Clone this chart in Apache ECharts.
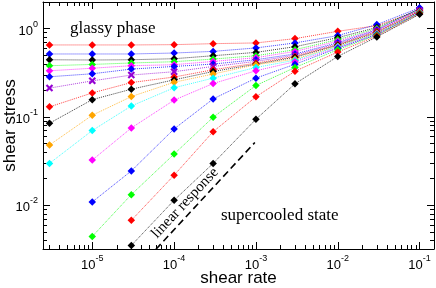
<!DOCTYPE html>
<html><head><meta charset="utf-8">
<script src="https://cdn.jsdelivr.net/npm/echarts@6/dist/echarts.min.js"></script>
<style>html,body{margin:0;padding:0;background:#fff}#c{width:436px;height:288px}</style>
</head><body><div id="c"></div>
<script>
// ---- data ----
const shearRate = [3e-6, 1e-5, 3e-5, 1e-4, 3e-4, 1e-3, 3e-3, 1e-2, 3e-2, 1e-1];
const stress01 = [0.653, 0.653, 0.653, 0.658, 0.675, 0.688, 0.770, 0.932, 1.08, 1.60];
const stress02 = [0.516, 0.516, 0.516, 0.529, 0.552, 0.604, 0.688, 0.833, 1.11, 1.72];
const stress03 = [0.444, 0.441, 0.444, 0.456, 0.493, 0.538, 0.624, 0.790, 1.03, 1.67];
const stress04 = [0.380, 0.393, 0.408, 0.422, 0.452, 0.493, 0.577, 0.750, 1.00, 1.64];
const stress05 = [0.333, 0.356, 0.380, 0.390, 0.425, 0.468, 0.552, 0.721, 0.974, 1.62];
const stress06 = [0.285, 0.308, 0.348, 0.373, 0.397, 0.444, 0.516, 0.693, 0.962, 1.69];
const stress07 = [0.212, 0.256, 0.298, 0.325, 0.373, 0.425, 0.500, 0.675, 0.937, 1.60];
const stress08 = [0.130, 0.187, 0.245, 0.283, 0.342, 0.406, 0.484, 0.658, 0.925, 1.58];
const stress09 = [0.0848, 0.157, 0.206, 0.263, 0.327, 0.395, 0.474, 0.649, 0.901, 1.56];
const stress10 = [0.0481, 0.1045, 0.170, 0.247, 0.306, 0.390, 0.452, 0.633, 0.889, 1.54];
const stress11 = [0.0298, 0.0702, 0.133, 0.214, 0.275, 0.363, 0.439, 0.624, 0.877, 1.53];
const stress12 = [null, 0.0325, 0.075, 0.155, 0.239, 0.333, 0.422, 0.608, 0.866, 1.52];
const stress13 = [null, 0.0109, 0.0245, 0.0731, 0.160, 0.275, 0.395, 0.600, 0.855, 1.51];
const stress14 = [null, 0.00444, 0.0132, 0.0380, 0.0992, 0.227, 0.363, 0.577, 0.844, 1.50];
const stress15 = [null, null, 0.00675, 0.0219, 0.0681, 0.169, 0.329, 0.543, 0.822, 1.48];
const stress16 = [null, null, 0.00351, 0.0114, 0.0298, 0.0941, 0.237, 0.484, 0.805, 1.45];
const linearX = [6e-5, 9.7e-4];
const linearY = [0.00318, 0.0514];
// ---- styles ----
const allStress = [stress01, stress02, stress03, stress04, stress05, stress06, stress07, stress08,
  stress09, stress10, stress11, stress12, stress13, stress14, stress15, stress16];
const colors = ['#ff0000', '#0000ff', '#000000', '#00ff00', '#ff00ff', '#0000ff', '#9400d3', '#ff0000',
  '#000000', '#ffa500', '#00ffff', '#ff00ff', '#0000ff', '#00ff00', '#ff0000', '#000000'];
const xMark = 'path://M2,0L5,3L8,0L10,2L7,5L10,8L8,10L5,7L2,10L0,8L3,5L0,2Z';

const sans = '"Liberation Sans", Arial, sans-serif';
const serif = '"Liberation Serif", "DejaVu Serif", serif';

function decadeLabel(v) {
  const e = Math.log10(v);
  const r = Math.round(e);
  if (Math.abs(e - r) > 1e-6) return '';
  return '{b|10}{s|' + r + '}';
}
const labelRich = {
  b: {fontSize: 13, fontFamily: sans, color: '#000', lineHeight: 18, verticalAlign: 'bottom'},
  s: {fontSize: 9, fontFamily: sans, color: '#000', lineHeight: 10, verticalAlign: 'top'}
};
const baseAxis = {
  type: 'log', logBase: 10,
  axisLine: {show: true, onZero: false, lineStyle: {color: '#000', width: 1}},
  axisTick: {show: true, inside: true, length: 7, lineStyle: {color: '#000', width: 1}},
  minorTick: {show: true, splitNumber: 9, length: 4, lineStyle: {color: '#000', width: 1}},
  splitLine: {show: false}, minorSplitLine: {show: false}
};
const xr = {min: 2.5e-6, max: 0.15};
const yr = {min: 0.0032, max: 2.0};

const series = allStress.map((arr, i) => ({
  type: 'line',
  data: shearRate.map((x, j) => [x, arr[j]]).filter(p => p[1] != null),
  symbol: i === 6 ? xMark : 'diamond',
  symbolSize: 7.5,
  itemStyle: {color: colors[i]},
  lineStyle: {type: 'dotted', width: 1, color: colors[i], opacity: 0.75},
  z: 3
}));
series.push({
  type: 'line',
  data: linearX.map((x, j) => [x, linearY[j]]),
  symbol: 'none',
  lineStyle: {type: [7, 4], width: 1.6, color: '#000'},
  z: 2
});

const chart = echarts.init(document.getElementById('c'), null, {renderer: 'canvas'});
chart.setOption({
  animation: false,
  backgroundColor: '#fff',
  grid: {left: 43, right: 2, top: 2, bottom: 39, containLabel: false, outerBoundsMode: 'none'},
  xAxis: [
    Object.assign({}, baseAxis, xr, {
      position: 'bottom',
      axisLabel: {formatter: decadeLabel, rich: labelRich, margin: 5},
      name: 'shear rate', nameLocation: 'middle', nameGap: 21, nameMoveOverlap: false,
      nameTextStyle: {fontSize: 17, fontFamily: sans, color: '#000'}
    }),
    Object.assign({}, baseAxis, xr, {position: 'top', axisLabel: {show: false}})
  ],
  yAxis: [
    Object.assign({}, baseAxis, yr, {
      position: 'left',
      axisLabel: {formatter: decadeLabel, rich: labelRich, margin: 5},
      name: 'shear stress', nameLocation: 'middle', nameGap: 24, nameMoveOverlap: false,
      nameTextStyle: {fontSize: 17, fontFamily: sans, color: '#000'}
    }),
    Object.assign({}, baseAxis, yr, {position: 'right', axisLabel: {show: false}})
  ],
  series: series,
  graphic: [
    {type: 'text', left: 70, top: 20, style: {text: 'glassy phase', font: '17px ' + serif, fill: '#000'}},
    {type: 'text', left: 221, top: 207, style: {text: 'supercooled state', font: '17px ' + serif, fill: '#000'}},
    {type: 'text', x: 185, y: 203, rotation: 47 * Math.PI / 180,
      style: {text: 'linear response', font: '15px ' + serif, fill: '#000', align: 'center', verticalAlign: 'middle'}}
  ]
});
</script>
</body></html>
